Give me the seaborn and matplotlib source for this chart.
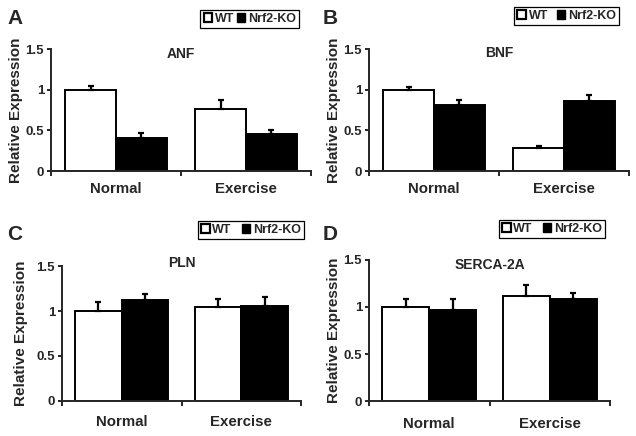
import numpy as np
import pandas as pd
import matplotlib
matplotlib.use('Agg')
import matplotlib.pyplot as plt
from matplotlib.patches import Patch
import seaborn as sns

conditions = ['Normal', 'Exercise']
genotypes = ['WT', 'Nrf2-KO']

# values (mean, upper error)
anf_wt = [1.00, 0.76]
anf_ko = [0.40, 0.46]
anf_wt_err = [0.04, 0.11]
anf_ko_err = [0.07, 0.05]

bnf_wt = [1.00, 0.28]
bnf_ko = [0.81, 0.86]
bnf_wt_err = [0.03, 0.03]
bnf_ko_err = [0.06, 0.07]

pln_wt = [1.00, 1.05]
pln_ko = [1.12, 1.06]
pln_wt_err = [0.10, 0.08]
pln_ko_err = [0.07, 0.10]

serca_wt = [1.00, 1.12]
serca_ko = [0.97, 1.08]
serca_wt_err = [0.08, 0.11]
serca_ko_err = [0.11, 0.07]

y_ticks = [0, 0.5, 1, 1.5]
y_tick_labels = ['0', '0.5', '1', '1.5']

sns.set_style('ticks')
plt.rcParams['font.family'] = ['Liberation Sans', 'DejaVu Sans']
plt.rcParams['font.weight'] = 'bold'

W, H = 636, 436
fig = plt.figure(figsize=(W / 100, H / 100), dpi=100)


def px_rect(left, right, bottom, top):
    return [left / W, 1 - bottom / H, (right - left) / W, (bottom - top) / H]


panels = [
    dict(letter='A', gene='ANF', wt=anf_wt, ko=anf_ko, wt_err=anf_wt_err, ko_err=anf_ko_err,
         rect=px_rect(51, 311, 171, 49), title_y=0.96, pad=8, labelpad=1.5,
         letter_xy=(7, 24), leg_xy=(299, 10), colsp=0.2),
    dict(letter='B', gene='BNF', wt=bnf_wt, ko=bnf_ko, wt_err=bnf_wt_err, ko_err=bnf_ko_err,
         rect=px_rect(369, 629, 171, 49), title_y=0.965, pad=8, labelpad=1.5,
         letter_xy=(323, 24), leg_xy=(619, 7), colsp=0.7),
    dict(letter='C', gene='PLN', wt=pln_wt, ko=pln_ko, wt_err=pln_wt_err, ko_err=pln_ko_err,
         rect=px_rect(62, 301, 400.7, 266.3), title_y=1.025, pad=10, labelpad=6,
         letter_xy=(7, 240), leg_xy=(304, 221), colsp=0.8),
    dict(letter='D', gene='SERCA-2A', wt=serca_wt, ko=serca_ko, wt_err=serca_wt_err, ko_err=serca_ko_err,
         rect=px_rect(369, 610, 401.3, 259.7), title_y=0.965, pad=11, labelpad=1.5,
         letter_xy=(323, 240), leg_xy=(605, 220), colsp=0.8),
]

for p in panels:
    ax = fig.add_axes(p['rect'])
    df = pd.DataFrame({
        'condition': conditions * 2,
        'genotype': [genotypes[0]] * 2 + [genotypes[1]] * 2,
        'value': p['wt'] + p['ko'],
    })
    sns.barplot(data=df, x='condition', y='value', hue='genotype', order=conditions,
                hue_order=genotypes, palette={'WT': 'white', 'Nrf2-KO': 'black'},
                errorbar=None, edgecolor='black', linewidth=1.4, width=0.78,
                saturation=1, legend=False, ax=ax)

    # one-sided (upper) error bars on each bar
    for cont, errs in zip(ax.containers, [p['wt_err'], p['ko_err']]):
        xs = [b.get_x() + b.get_width() / 2 for b in cont]
        ys = [b.get_height() for b in cont]
        ax.errorbar(xs, ys, yerr=[np.zeros(len(errs)), errs], fmt='none',
                    ecolor='black', elinewidth=1.6, capsize=2.5, capthick=1.6, zorder=1)

    ax.set_xlim(-0.5, 1.5)
    ax.set_ylim(0, 1.5)
    ax.set_yticks(y_ticks)
    ax.set_yticklabels(y_tick_labels, fontsize=9.5, fontweight='bold')
    ax.set_xticks([0, 1])
    ax.set_xticklabels(conditions, fontsize=10.8, fontweight='bold')
    ax.set_xticks([-0.5, 0.5, 1.5], minor=True)
    ax.tick_params(axis='x', which='major', length=0, pad=p['pad'])
    ax.tick_params(axis='x', which='minor', length=3.5, width=1.4, direction='out')
    ax.tick_params(axis='y', length=3, width=1.4, pad=2)
    ax.set_xlabel('')
    ax.set_ylabel('Relative Expression', fontsize=11, fontweight='bold', labelpad=p['labelpad'])
    sns.despine(ax=ax)
    for s in ['left', 'bottom']:
        ax.spines[s].set_linewidth(1.4)

    ax.text(0.5, p['title_y'], p['gene'], transform=ax.transAxes, ha='center', va='center',
            fontsize=10, fontweight='bold')

    fig.text(p['letter_xy'][0] / W, 1 - p['letter_xy'][1] / H, p['letter'],
             fontsize=15, fontweight='bold', ha='left', va='baseline')

    handles = [Patch(facecolor='white', edgecolor='black', linewidth=1.6, label='WT'),
               Patch(facecolor='black', edgecolor='black', label='Nrf2-KO')]
    leg = fig.legend(handles=handles, loc='upper right', ncol=2,
                     bbox_to_anchor=(p['leg_xy'][0] / W, 1 - p['leg_xy'][1] / H),
                     frameon=True, fancybox=False, edgecolor='black', framealpha=1,
                     handlelength=0.7, handleheight=0.7, handletextpad=0.2,
                     columnspacing=p['colsp'], borderpad=0.25, borderaxespad=0,
                     prop={'size': 9, 'weight': 'bold'})
    leg.get_frame().set_linewidth(0.9)

fig.savefig('out.png', dpi=100)
